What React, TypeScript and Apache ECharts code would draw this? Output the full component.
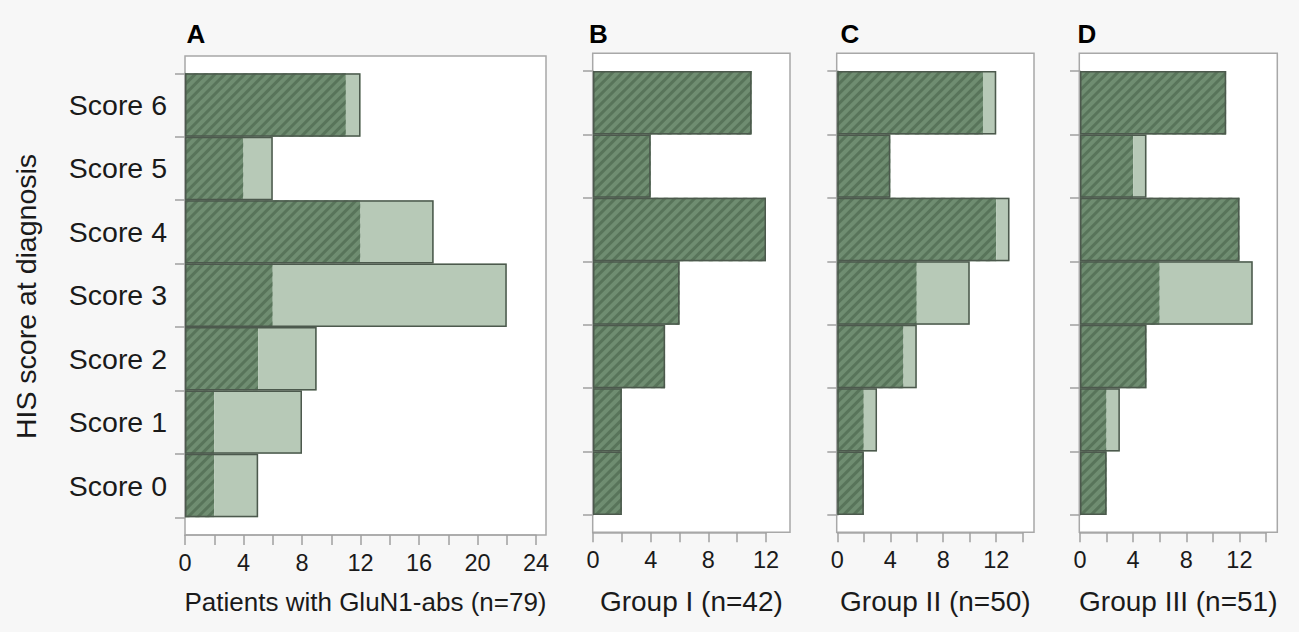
import React, { useEffect, useRef } from 'react';
import * as echarts from 'echarts';

const categories = ['Score 0', 'Score 1', 'Score 2', 'Score 3', 'Score 4', 'Score 5', 'Score 6'];
const panelLetters = ['A', 'B', 'C', 'D'];
const panelTitles = ['Patients with GluN1-abs (n=79)', 'Group I (n=42)', 'Group II (n=50)', 'Group III (n=51)'];
const yAxisTitle = 'HIS score at diagnosis';

// dark (hatched) and light segments per panel, Score 0..6
const darkA = [2, 2, 5, 6, 12, 4, 11];
const lightA = [3, 6, 4, 16, 5, 2, 1];
const darkB = [2, 2, 5, 6, 12, 4, 11];
const lightB = [0, 0, 0, 0, 0, 0, 0];
const darkC = [2, 2, 5, 6, 12, 4, 11];
const lightC = [0, 1, 1, 4, 1, 0, 1];
const darkD = [2, 2, 5, 6, 12, 4, 11];
const lightD = [0, 1, 0, 7, 0, 1, 0];
const axisMax = [24, 12, 14, 14];

const FONT = "'Liberation Sans', Arial, Helvetica, sans-serif";

// layout (pixels)
const boxes = [
  { l: 185, t: 56, w: 361, h: 479 },
  { l: 592.7, t: 53.3, w: 197.3, h: 479 },
  { l: 836.7, t: 53.3, w: 197.3, h: 479 },
  { l: 1079.3, t: 53.3, w: 198, h: 479 },
];
const inners = [
  { l: 185, t: 73.3, w: 351, h: 444 },
  { l: 593, t: 71, w: 173, h: 444 },
  { l: 837.3, t: 71, w: 185.4, h: 444 },
  { l: 1080, t: 71, w: 186, h: 444 },
];

export default function App() {
  const ref = useRef<HTMLDivElement>(null);
  useEffect(() => {
    if (!ref.current) return;
    const chart = echarts.init(ref.current, undefined, { renderer: 'svg' });
    const darks = [darkA, darkB, darkC, darkD];
    const lights = [lightA, lightB, lightC, lightD];

    const grid: any[] = [];
    const xAxis: any[] = [];
    const yAxis: any[] = [];
    const series: any[] = [];
    const graphic: any[] = [];

    for (let p = 0; p < 4; p++) {
      const b = boxes[p];
      const inn = inners[p];
      grid.push({
        left: b.l, top: b.t, width: b.w, height: b.h,
        show: true, backgroundColor: '#ffffff', borderColor: '#a8a8a8', borderWidth: 1.5,
      });
      grid.push({ left: inn.l, top: inn.t, width: inn.w, height: inn.h, show: false });
      const og = 2 * p;
      const ig = 2 * p + 1;
      xAxis.push({ gridIndex: og, type: 'value', show: false });
      yAxis.push({ gridIndex: og, type: 'value', show: false });
      xAxis.push({
        gridIndex: ig,
        type: 'value',
        min: 0,
        max: axisMax[p],
        interval: 2,
        offset: (b.t + b.h) - (inn.t + inn.h),
        axisLine: { show: true, lineStyle: { color: '#a8a8a8', width: 1.5 } },
        axisTick: { show: true, length: 10, lineStyle: { color: '#a0a0a0', width: 1.5 } },
        axisLabel: {
          margin: 16,
          fontSize: 23.5,
          fontFamily: FONT,
          color: '#1a1a1a',
          formatter: (v: number) => (v % 4 === 0 ? String(v) : ''),
        },
        splitLine: { show: false },
      });
      yAxis.push({
        gridIndex: ig,
        type: 'category',
        data: categories,
        boundaryGap: true,
        axisLine: { show: true, lineStyle: { color: '#a8a8a8', width: 1.5 } },
        axisTick: { show: true, length: 10, lineStyle: { color: '#a0a0a0', width: 1.5 } },
        axisLabel: {
          show: p === 0,
          margin: 18,
          fontSize: 28.5,
          fontFamily: FONT,
          color: '#1a1a1a',
          padding: [8, 0, 0, 0],
        },
        splitLine: { show: false },
      });
      const xi = 2 * p + 1;
      const yi = 2 * p + 1;
      const totals = darks[p].map((d, i) => d + lights[p][i]);
      series.push({
        type: 'bar',
        xAxisIndex: xi,
        yAxisIndex: yi,
        stack: 'p' + p,
        data: darks[p],
        barCategoryGap: '0%',
        barGap: '-100%',
        itemStyle: {
          color: '#6f8d71',
          decal: {
            symbol: 'rect',
            symbolSize: 1,
            color: 'rgba(78,105,80,0.7)',
            dashArrayX: [1, 0],
            dashArrayY: [3, 3.5],
            rotation: -Math.PI / 4,
          },
        },
        silent: true,
      });
      series.push({
        type: 'bar',
        xAxisIndex: xi,
        yAxisIndex: yi,
        stack: 'p' + p,
        data: lights[p],
        barCategoryGap: '0%',
        barGap: '-100%',
        itemStyle: { color: '#b7c9b7' },
        silent: true,
      });
      series.push({
        type: 'bar',
        xAxisIndex: xi,
        yAxisIndex: yi,
        data: totals,
        barCategoryGap: '0%',
        barGap: '-100%',
        z: 3,
        itemStyle: { color: 'rgba(0,0,0,0)', borderColor: '#4c594d', borderWidth: 1.5 },
        silent: true,
      });
    }

    const letterX = [186.5, 589, 840.5, 1077.5];
    const titleY = [602, 601.7, 601.7, 601.7];
    const titleSize = [26, 28, 28, 28];
    for (let p = 0; p < 4; p++) {
      graphic.push({
        type: 'text',
        x: letterX[p],
        y: 34,
        style: {
          text: panelLetters[p],
          font: `bold 26px ${FONT}`,
          fill: '#000',
          textAlign: 'left',
          textVerticalAlign: 'middle',
        },
      });
      graphic.push({
        type: 'text',
        x: boxes[p].l + boxes[p].w / 2,
        y: titleY[p],
        style: {
          text: panelTitles[p],
          font: `${titleSize[p]}px ${FONT}`,
          fill: '#1a1a1a',
          textAlign: 'center',
          textVerticalAlign: 'middle',
        },
      });
    }
    graphic.push({
      type: 'text',
      x: 26,
      y: 296.5,
      rotation: Math.PI / 2,
      style: {
        text: yAxisTitle,
        font: `28.5px ${FONT}`,
        fill: '#1a1a1a',
        textAlign: 'center',
        textVerticalAlign: 'middle',
      },
    });

    chart.setOption({
      animation: false,
      backgroundColor: '#f7f7f7',
      grid,
      xAxis,
      yAxis,
      series,
      graphic,
    });
    return () => chart.dispose();
  }, []);
  return (
    <div
      ref={ref}
      style={{ position: 'fixed', left: 0, top: 0, width: 1299, height: 632 }}
    />
  );
}
